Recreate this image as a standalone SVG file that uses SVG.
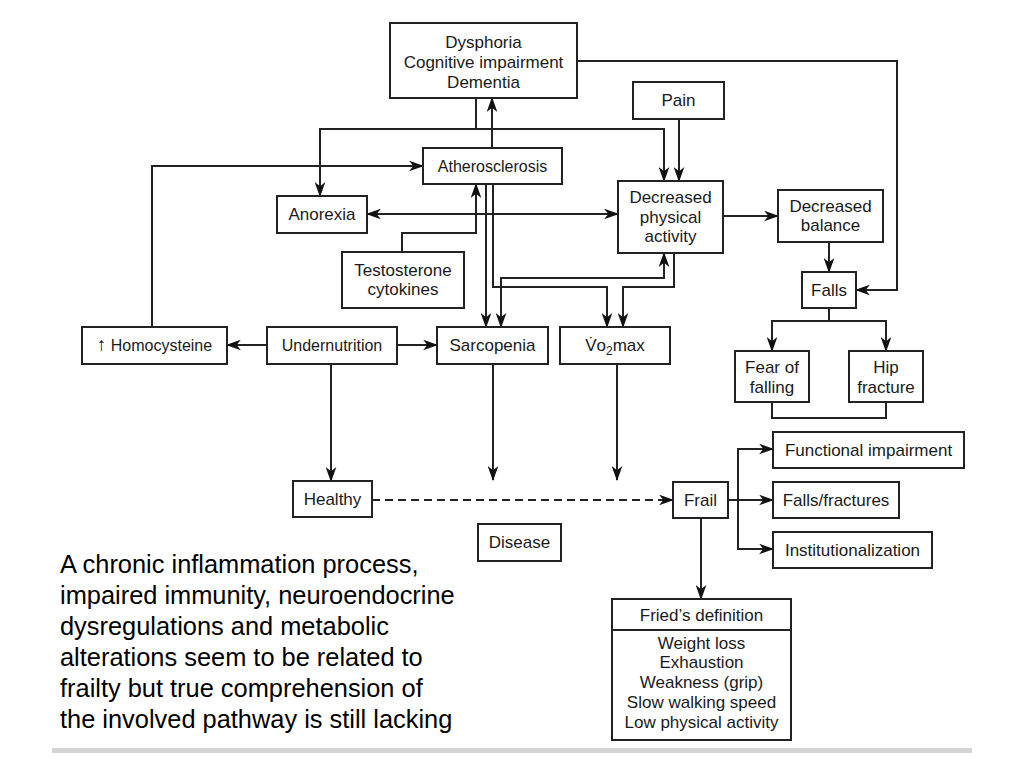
<svg xmlns="http://www.w3.org/2000/svg" width="1024" height="768" viewBox="0 0 1024 768">
<style>
.n rect{fill:#fff;stroke:#222;stroke-width:2}
text{font-family:"Liberation Sans",Arial,Helvetica,sans-serif;fill:#1a1a1a;text-anchor:middle;font-size:17px}
.s{font-size:16px}
.c path{fill:none;stroke:#222;stroke-width:2}
.para{text-anchor:start;font-size:25.4px;fill:#000}
</style>
<defs>
<marker id="a" viewBox="0 0 14 10" refX="13" refY="5" markerWidth="15" markerHeight="11" markerUnits="userSpaceOnUse" orient="auto-start-reverse">
<path d="M0,0 L14,5 L0,10 L4,5 z" fill="#111"/>
</marker>
</defs>
<rect width="1024" height="768" fill="#fff"/>
<g class="c" id="connectors">
<path d="M476,98 V129 H320 V196" marker-end="url(#a)"/>
<path d="M476,129 H664 V181" marker-end="url(#a)"/>
<path d="M492,148 V98" marker-end="url(#a)"/>
<path d="M152,327 V166 H423" marker-end="url(#a)"/>
<path d="M367,214 H618" marker-start="url(#a)" marker-end="url(#a)"/>
<path d="M402,252 V233 H476 V184" marker-end="url(#a)"/>
<path d="M486,184 V327" marker-end="url(#a)"/>
<path d="M493,184 V287 H607 V327" marker-end="url(#a)"/>
<path d="M674,253 V287 H623 V327" marker-end="url(#a)"/>
<path d="M501,327 V278 H664 V253" marker-start="url(#a)" marker-end="url(#a)"/>
<path d="M679,119 V181" marker-end="url(#a)"/>
<path d="M723,216 H778" marker-end="url(#a)"/>
<path d="M829,242 V272" marker-end="url(#a)"/>
<path d="M577,61 H897 V290 H856" marker-end="url(#a)"/>
<path d="M829,308 V321 H772 V351" marker-end="url(#a)"/>
<path d="M829,321 H886 V351" marker-end="url(#a)"/>
<path d="M772,402 V418 H886 V402"/>
<path d="M267,345 H227" marker-end="url(#a)"/>
<path d="M397,345 H437" marker-end="url(#a)"/>
<path d="M331,364 V481" marker-end="url(#a)"/>
<path d="M493,364 V480" marker-end="url(#a)"/>
<path d="M617,364 V480" marker-end="url(#a)"/>
<path d="M372,500 H673" stroke-dasharray="8,5" marker-end="url(#a)"/>
<path d="M728,500 H773" marker-end="url(#a)"/>
<path d="M738,500 V449 H773" marker-end="url(#a)"/>
<path d="M738,500 V549 H773" marker-end="url(#a)"/>
<path d="M701,518 V599" marker-end="url(#a)"/>
</g>
<g class="n" id="dysphoria"><rect x="390" y="23" width="187" height="75"/><text x="483.5" y="48">Dysphoria</text><text x="483.5" y="68">Cognitive impairment</text><text x="483.5" y="88">Dementia</text></g>
<g class="n" id="pain"><rect x="633" y="82" width="91" height="37"/><text x="678.5" y="106">Pain</text></g>
<g class="n" id="atherosclerosis"><rect x="423" y="148" width="139" height="36"/><text class="s" x="492.5" y="172">Atherosclerosis</text></g>
<g class="n" id="anorexia"><rect x="277" y="196" width="90" height="37"/><text x="322" y="220">Anorexia</text></g>
<g class="n" id="decreased-physical-activity"><rect x="618" y="181" width="105" height="72"/><text x="670.5" y="203">Decreased</text><text x="670.5" y="223">physical</text><text x="670.5" y="242">activity</text></g>
<g class="n" id="decreased-balance"><rect x="778" y="190" width="105" height="52"/><text x="830.5" y="212">Decreased</text><text x="830.5" y="231">balance</text></g>
<g class="n" id="testosterone"><rect x="342" y="252" width="122" height="56"/><text x="403" y="276">Testosterone</text><text x="403" y="295">cytokines</text></g>
<g class="n" id="falls"><rect x="802" y="272" width="54" height="36"/><text x="829" y="296">Falls</text></g>
<g class="n" id="homocysteine"><rect x="82" y="327" width="145" height="37"/><text class="s" x="154.5" y="351"><tspan font-size="19">↑</tspan> Homocysteine</text></g>
<g class="n" id="undernutrition"><rect x="267" y="327" width="130" height="37"/><text class="s" x="332" y="351">Undernutrition</text></g>
<g class="n" id="sarcopenia"><rect x="437" y="327" width="111" height="37"/><text x="492.5" y="351">Sarcopenia</text></g>
<g class="n" id="vo2max"><rect x="560" y="327" width="110" height="37"/><text x="615" y="351">V&#x307;o<tspan font-size="12" dy="4">2</tspan><tspan dy="-4">max</tspan></text></g>
<g class="n" id="fear-of-falling"><rect x="735" y="351" width="74" height="51"/><text x="772" y="373">Fear of</text><text x="772" y="393">falling</text></g>
<g class="n" id="hip-fracture"><rect x="849" y="351" width="74" height="51"/><text x="886" y="373">Hip</text><text x="886" y="393">fracture</text></g>
<g class="n" id="functional-impairment"><rect x="773" y="432" width="191" height="36"/><text x="868.5" y="456">Functional impairment</text></g>
<g class="n" id="falls-fractures"><rect x="773" y="482" width="126" height="36"/><text x="836" y="506">Falls/fractures</text></g>
<g class="n" id="institutionalization"><rect x="773" y="532" width="159" height="36"/><text x="852.5" y="556">Institutionalization</text></g>
<g class="n" id="healthy"><rect x="293" y="481" width="79" height="36"/><text x="332.5" y="505">Healthy</text></g>
<g class="n" id="frail"><rect x="673" y="482" width="55" height="36"/><text x="700.5" y="506">Frail</text></g>
<g class="n" id="disease"><rect x="478" y="524" width="83" height="37"/><text x="519.5" y="548">Disease</text></g>
<g class="n" id="fried"><rect x="612" y="599" width="179" height="141"/><path d="M612,630 H791" stroke="#222" stroke-width="2"/><text x="701.5" y="621">Fried’s definition</text><text x="701.5" y="649">Weight loss</text><text x="701.5" y="668">Exhaustion</text><text x="701.5" y="688">Weakness (grip)</text><text x="701.5" y="708">Slow walking speed</text><text x="701.5" y="728">Low physical activity</text></g>
<g id="caption">
<text class="para" x="60" y="573">A chronic inflammation process,</text>
<text class="para" x="60" y="604">impaired immunity, neuroendocrine</text>
<text class="para" x="60" y="635">dysregulations and metabolic</text>
<text class="para" x="60" y="666">alterations seem to be related to</text>
<text class="para" x="60" y="697">frailty but true comprehension of</text>
<text class="para" x="60" y="728">the involved pathway is still lacking</text>
</g>
<rect x="52" y="748" width="920" height="5" fill="#d4d4d4"/>
</svg>
